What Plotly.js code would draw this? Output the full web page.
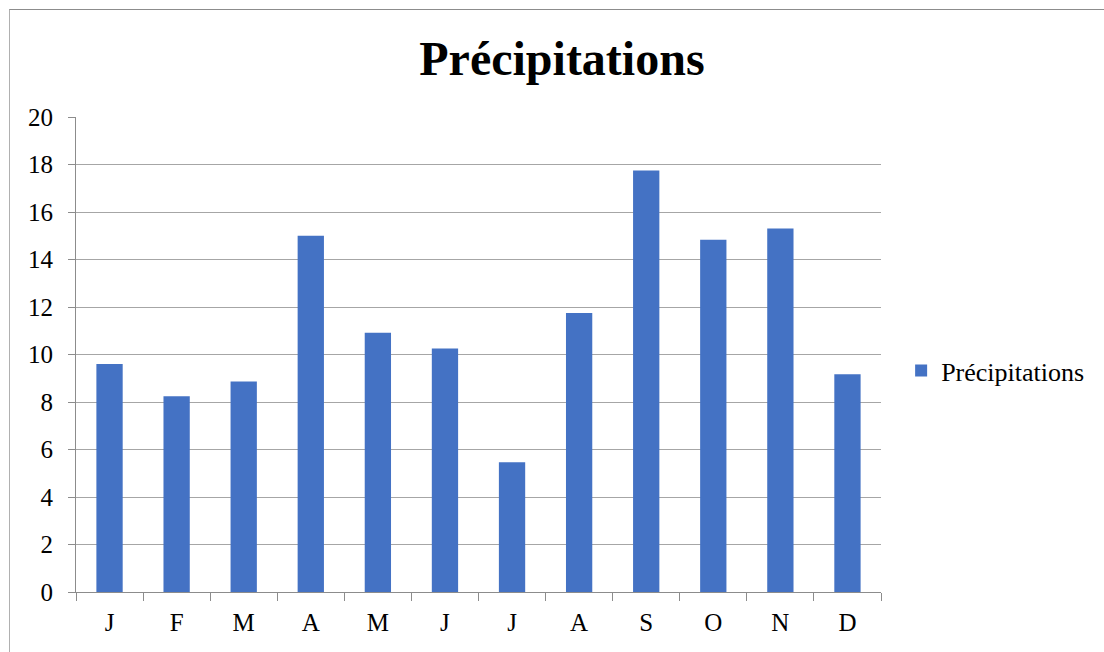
<!DOCTYPE html>
<html>
<head>
<meta charset="utf-8">
<script src="https://cdn.plot.ly/plotly-3.0.1.min.js"></script>
<style>
  html, body { margin: 0; padding: 0; background: #fff; overflow: hidden; }
  #wrap { position: relative; width: 1104px; height: 652px; }
  #frame { position: absolute; left: 9px; top: 9px; width: 1200px; height: 700px;
           border-left: 1px solid #b0b0b0; border-top: 1px solid #8c8c8c; pointer-events: none; }
  #chart { position: absolute; left: 0; top: 0; width: 1104px; height: 652px; }
</style>
</head>
<body>
<div id="wrap">
  <div id="chart"></div>
  <div id="frame"></div>
</div>
<script>
const months = ["J", "F", "M", "A", "M", "J", "J", "A", "S", "O", "N", "D"];
const monthKeys = ["jan", "feb", "mar", "apr", "may", "jun", "jul", "aug", "sep", "oct", "nov", "dec"];
const precipitations = [9.6, 8.24, 8.86, 15.0, 10.92, 10.25, 5.46, 11.75, 17.75, 14.83, 15.31, 9.17];
const yTicks = [0, 2, 4, 6, 8, 10, 12, 14, 16, 18, 20];
const seriesName = "Précipitations";
const chartTitle = "Précipitations";

const serif = "Liberation Serif";

const trace = {
  type: "bar",
  name: seriesName,
  x: monthKeys,
  y: precipitations,
  marker: { color: "#4472C4", line: { width: 0 } },
  showlegend: true
};

const layout = {
  width: 1104,
  height: 652,
  font: { family: serif, size: 25, color: "#000000" },
  paper_bgcolor: "#ffffff",
  plot_bgcolor: "#ffffff",
  margin: { l: 76, r: 223, t: 117, b: 60, autoexpand: false },
  bargap: 0.608,
  title: {
    text: "<b>" + chartTitle + "</b>",
    font: { family: serif, size: 48, color: "#000000" },
    x: 0.509, xref: "container", xanchor: "center",
    y: 1 - 58 / 652, yref: "container", yanchor: "middle"
  },
  showlegend: true,
  legend: {
    x: 1.025, xanchor: "left",
    y: 0.466, yanchor: "middle",
    font: { family: serif, size: 26, color: "#000000" },
    bgcolor: "rgba(0,0,0,0)"
  },
  xaxis: {
    type: "category",
    tickmode: "array",
    tickvals: monthKeys,
    ticktext: months,
    tickson: "boundaries",
    ticks: "outside",
    ticklen: 8,
    tickcolor: "#8c8c8c",
    showline: true,
    linecolor: "#8c8c8c",
    linewidth: 1,
    showgrid: false,
    tickfont: { family: serif, size: 25, color: "#000000" },
    ticklabelstandoff: 8,
    fixedrange: true
  },
  yaxis: {
    range: [0, 20],
    tickmode: "array",
    tickvals: yTicks,
    ticktext: yTicks.map(String),
    ticks: "outside",
    ticklen: 7,
    tickcolor: "#8c8c8c",
    showline: true,
    linecolor: "#8c8c8c",
    linewidth: 1,
    showgrid: true,
    gridcolor: "#a6a6a6",
    gridwidth: 1,
    zeroline: false,
    tickfont: { family: serif, size: 25, color: "#000000" },
    ticklabelstandoff: 10,
    fixedrange: true
  }
};

Plotly.newPlot("chart", [trace], layout, { displayModeBar: false, staticPlot: true });
</script>
</body>
</html>
